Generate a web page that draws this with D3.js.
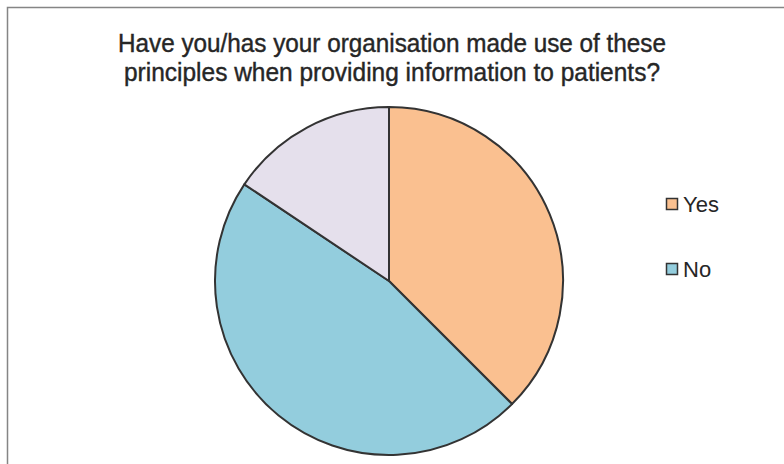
<!DOCTYPE html>
<html><head><meta charset="utf-8">
<script src="https://cdn.jsdelivr.net/npm/d3@7"></script>
<style>html,body{margin:0;padding:0;background:#fff;}</style>
</head><body>
<svg id="c" width="784" height="464"></svg>
<script>
const categories = ["Yes", "No", "Other"];
const values = [24, 30, 10];
const legendLabels = ["Yes", "No"];
const colors = ["#FAC090", "#93CDDD", "#E5E0EC"];
const titleLines = ["Have you/has your organisation made use of these", "principles when providing information to patients?"];
const titleWidths = [548, 536];

const svg = d3.select("#c");
svg.append("path").attr("d", "M7.5,464 V7.5 H784").attr("fill", "none").attr("stroke", "#858585").attr("stroke-width", 1.5);

const font = "'Liberation Sans Narrow', 'Arial Narrow', 'Liberation Sans', Arial, sans-serif";
titleLines.forEach((t, i) => {
  svg.append("text").attr("text-anchor", "middle").attr("font-family", font)
    .attr("font-size", 25).attr("fill", "#262626").attr("stroke", "#262626").attr("stroke-width", 0.4)
    .attr("x", 392).attr("y", 52 + i * 29)
    .attr("textLength", titleWidths[i]).attr("lengthAdjust", "spacingAndGlyphs")
    .text(t);
});

const cx = 389, cy = 281, r = 174;
const pie = d3.pie().sort(null).value(d => d)(values);
const arc = d3.arc().innerRadius(0).outerRadius(r);
const color = d3.scaleOrdinal().domain(categories).range(colors);
svg.append("g").attr("transform", `translate(${cx},${cy})`)
  .selectAll("path").data(pie).join("path")
  .attr("d", arc).attr("fill", (d, i) => color(categories[i]))
  .attr("stroke", "#333").attr("stroke-width", 2).attr("stroke-linejoin", "round");

const lg = svg.append("g");
legendLabels.forEach((l, i) => {
  const y = 198 + i * 65;
  lg.append("rect").attr("x", 666.5).attr("y", y + 0.5).attr("width", 11).attr("height", 11)
    .attr("fill", color(l)).attr("stroke", "#333").attr("stroke-width", 1.5);
  lg.append("text").attr("x", 683).attr("y", y + 14).attr("font-family", font)
    .attr("font-size", 22).attr("fill", "#262626").text(l);
});
</script>
</body></html>
